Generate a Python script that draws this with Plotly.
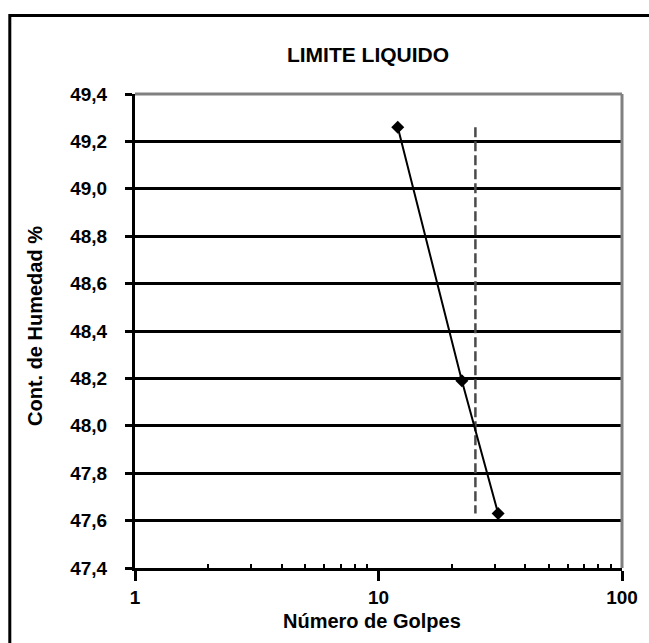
import plotly.graph_objects as go

# Liquid limit test: blows vs. moisture content
golpes = [12, 22, 31]
humedad = [49.26, 48.19, 47.63]
golpes_ref = 25  # reference blow count (dashed line)

x_ticks = [1, 10, 100]
x_minor = [2, 3, 4, 5, 6, 7, 8, 9, 20, 30, 40, 50, 60, 70, 80, 90]

FONT = "Liberation Sans, Arial, sans-serif"

fig = go.Figure()

# vertical dashed line at the reference blow count, spanning the data range
fig.add_trace(go.Scatter(
    x=[golpes_ref, golpes_ref],
    y=[max(humedad), min(humedad)],
    mode="lines",
    line=dict(color="#4a4a4a", width=2.5, dash="10px,4px"),
    hoverinfo="skip",
    showlegend=False,
))

# flow curve
fig.add_trace(go.Scatter(
    x=golpes, y=humedad,
    mode="lines+markers",
    line=dict(color="black", width=2),
    marker=dict(symbol="diamond", size=10, color="black"),
    showlegend=False,
))

fig.update_layout(
    width=649, height=643,
    margin=dict(l=135, r=27, t=94, b=75),
    paper_bgcolor="white",
    plot_bgcolor="white",
    separators=",.",
    font=dict(family=FONT, size=20, color="black", weight="bold"),
    title=dict(
        text="LIMITE LIQUIDO",
        font=dict(family=FONT, size=21, color="black", weight="bold"),
        xref="container", x=368 / 649, xanchor="center",
        yref="container", y=1 - 55 / 643, yanchor="middle",
    ),
    xaxis=dict(
        type="log", range=[0, 2],
        tickvals=x_ticks, ticktext=[str(v) for v in x_ticks],
        ticks="outside", ticklen=10, tickwidth=3, tickcolor="black",
        showline=True, linecolor="black", linewidth=3,
        showgrid=False, zeroline=False,
        ticklabelstandoff=0,
        minor=dict(tickvals=x_minor, ticks="inside", ticklen=4,
                   tickwidth=2, tickcolor="black", showgrid=False),
        tickfont=dict(family=FONT, size=19, color="black", weight="bold"),
    ),
    yaxis=dict(
        range=[47.4, 49.4], dtick=0.2, tick0=47.4, tickformat=".1f",
        ticks="outside", ticklen=7, tickwidth=3, tickcolor="black",
        showline=True, linecolor="black", linewidth=3,
        showgrid=True, gridcolor="black", gridwidth=2.5,
        zeroline=False,
        ticklabelstandoff=14,
        tickfont=dict(family=FONT, size=19, color="black", weight="bold"),
    ),
    annotations=[
        dict(text="Número de Golpes", xref="paper", yref="paper",
             x=(372 - 135) / 487, y=(568 - 621) / 474,
             xanchor="center", yanchor="middle", showarrow=False,
             font=dict(family=FONT, size=20, color="black", weight="bold")),
        dict(text="Cont. de Humedad %", xref="paper", yref="paper",
             x=(35 - 135) / 487, y=(568 - 326) / 474, textangle=-90,
             xanchor="center", yanchor="middle", showarrow=False,
             font=dict(family=FONT, size=20, color="black", weight="bold")),
    ],
    shapes=[
        # gray top and right edges of the plot area
        dict(type="line", xref="paper", yref="paper", x0=0, x1=1, y0=1, y1=1,
             line=dict(color="#808080", width=3), layer="above"),
        dict(type="line", xref="paper", yref="paper", x0=1, x1=1, y0=0, y1=1,
             line=dict(color="#808080", width=3), layer="above"),
        # outer chart frame
        dict(type="rect", xref="paper", yref="paper",
             x0=(9.8 - 135) / 487, x1=3, y0=-3, y1=(568 - 15.5) / 474,
             line=dict(color="black", width=3), fillcolor="rgba(0,0,0,0)",
             layer="below"),
    ],
)

fig.write_html("out.html")
